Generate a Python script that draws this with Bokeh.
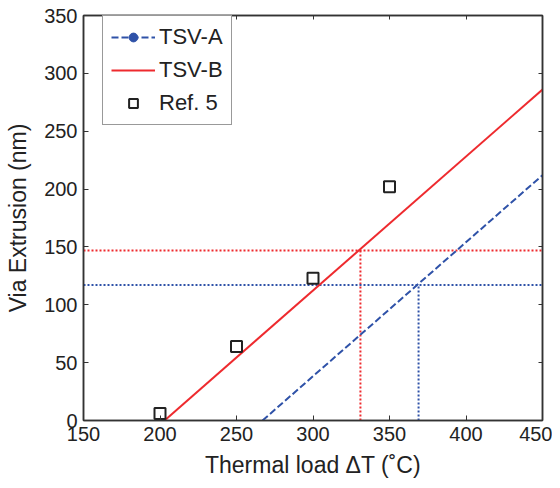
from bokeh.plotting import figure
from bokeh.models import LinearAxis, Legend, LegendItem, Range1d, FixedTicker
from bokeh.embed import file_html
from bokeh.resources import INLINE

# Data
tsv_a_x = [267, 450]
tsv_a_y = [0, 212]
tsv_b_x = [203, 450]
tsv_b_y = [0, 286]
ref5_x = [200, 250, 300, 350]
ref5_y = [6, 64, 123, 202]
# reference dotted guide lines (target extrusion level and matching load)
a_level = 117
a_load = 369
b_level = 147
b_load = 331

x_ticks = [150, 200, 250, 300, 350, 400, 450]
y_ticks = [0, 50, 100, 150, 200, 250, 300, 350]

BLUE = "#2f52a8"
RED = "#ee2a2e"
AX = "#333333"
FONT = "Liberation Sans"

W, H = 552, 480
BL, BR, BT, BB = 83, 10, 15, 60

p = figure(width=W, height=H, output_backend="svg", toolbar_location=None,
           x_range=Range1d(150, 450), y_range=Range1d(0, 350),
           min_border_left=BL, min_border_right=BR, min_border_top=BT, min_border_bottom=BB)
p.background_fill_color = "white"
p.border_fill_color = "white"
p.grid.visible = False
p.outline_line_color = AX
p.outline_line_width = 1.5

for ax in (p.xaxis[0], p.yaxis[0]):
    ax.axis_line_color = AX
    ax.axis_line_width = 1.5
    ax.major_tick_in = 5
    ax.major_tick_out = 0
    ax.minor_tick_line_color = None
    ax.major_tick_line_color = AX
    ax.major_label_text_font = FONT
    ax.major_label_text_font_size = "20px"
    ax.major_label_text_color = "#222222"
    ax.axis_label_text_font = FONT
    ax.axis_label_text_font_size = "23px"
    ax.axis_label_text_font_style = "normal"
    ax.axis_label_text_color = "#222222"

p.xaxis[0].ticker = FixedTicker(ticks=x_ticks)
p.yaxis[0].ticker = FixedTicker(ticks=y_ticks)
p.xaxis[0].axis_label = "Thermal load \u0394T (\u02daC)"
p.yaxis[0].axis_label = "Via Extrusion (nm)"
p.xaxis[0].major_label_standoff = 6
p.yaxis[0].major_label_standoff = 6
p.xaxis[0].axis_label_standoff = 8
p.yaxis[0].axis_label_standoff = 10

# mirrored tick marks on top and right (no labels)
top = LinearAxis(ticker=FixedTicker(ticks=x_ticks),
                 major_label_overrides={t: "" for t in x_ticks},
                 major_label_standoff=0, major_tick_in=4, major_tick_out=0,
                 minor_tick_line_color=None, axis_line_color=AX, axis_line_width=1.5,
                 major_tick_line_color=AX)
right = LinearAxis(ticker=FixedTicker(ticks=y_ticks),
                   major_label_overrides={t: "" for t in y_ticks},
                   major_label_standoff=0, major_tick_in=4, major_tick_out=0,
                   minor_tick_line_color=None, axis_line_color=AX, axis_line_width=1.5,
                   major_tick_line_color=AX)
p.add_layout(top, "above")
p.add_layout(right, "right")

# dotted guides
p.line([150, 450], [b_level, b_level], line_color=RED, line_dash="2 2", line_width=2)
p.line([b_load, b_load], [0, b_level], line_color=RED, line_dash="2 2", line_width=2)
p.line([150, 450], [a_level, a_level], line_color=BLUE, line_dash="2 2", line_width=2)
p.line([a_load, a_load], [0, a_level], line_color=BLUE, line_dash="2 2", line_width=2)

ra = p.line(tsv_a_x, tsv_a_y, line_color=BLUE, line_width=2, line_dash="7 3")
ra_dot = p.scatter(x=[float("nan")], y=[float("nan")], marker="circle", size=4,
                   fill_color=BLUE, line_color=BLUE)
rb = p.line(tsv_b_x, tsv_b_y, line_color=RED, line_width=2)
rr = p.scatter(ref5_x, ref5_y, marker="square", size=11, fill_color="white",
               line_color="#222222", line_width=2)

frame_h = H - BT - BB
legend = Legend(items=[
    LegendItem(label="TSV-A", renderers=[ra, ra_dot]),
    LegendItem(label="TSV-B", renderers=[rb]),
    LegendItem(label="Ref. 5", renderers=[rr]),
], location=(19, frame_h - 14 - 96))
legend.margin = 0
legend.padding = 8
legend.spacing = 7
legend.glyph_width = 44
legend.glyph_height = 22
legend.label_height = 22
legend.label_standoff = 4
legend.label_text_font = FONT
legend.label_text_font_size = "22px"
legend.label_text_color = "#222222"
legend.border_line_color = AX
legend.border_line_width = 1.5
legend.background_fill_color = "white"
legend.background_fill_alpha = 1
p.add_layout(legend)

open("out.html", "w").write(file_html(p, INLINE))
